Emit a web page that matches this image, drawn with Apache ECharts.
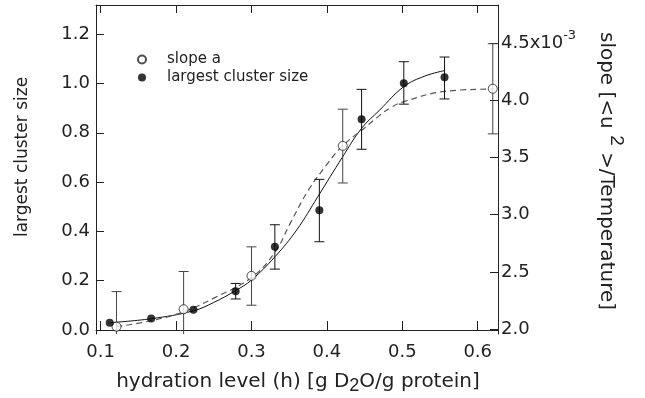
<!DOCTYPE html>
<html>
<head>
<meta charset="utf-8">
<script src="https://cdn.jsdelivr.net/npm/echarts@6/dist/echarts.min.js"></script>
<style>
html,body{margin:0;padding:0;background:#fff;}
#c{width:645px;height:398px;}
</style>
</head>
<body>
<div id="c"></div>
<script>
// ---- data ----
// largest cluster size (filled, left axis)
var clusterX    = [0.112, 0.167, 0.223, 0.279, 0.331, 0.390, 0.446, 0.502, 0.556];
var clusterY    = [0.030, 0.047, 0.082, 0.157, 0.338, 0.486, 0.855, 1.001, 1.025];
var clusterLow  = [null,  null,  null,  0.126, 0.247, 0.358, 0.733, 0.916, 0.937];
var clusterHigh = [null,  null,  null,  0.189, 0.427, 0.611, 0.976, 1.088, 1.107];

// slope a (open, right axis, x10^-3)
var slopeX    = [0.121, 0.210, 0.300, 0.421, 0.620];
var slopeY    = [2.020, 2.173, 2.465, 3.603, 4.103];
var slopeLow  = [1.713, 1.843, 2.208, 3.278, 3.708];
var slopeHigh = [2.327, 2.503, 2.719, 3.924, 4.497];

// fitted curves
var solidFitX = [0.112, 0.167, 0.223, 0.250, 0.279, 0.300, 0.331, 0.360, 0.388, 0.421, 0.446, 0.470, 0.502, 0.530, 0.556];
var solidFitY = [0.030, 0.046, 0.078, 0.112, 0.160, 0.203, 0.297, 0.406, 0.541, 0.703, 0.818, 0.892, 0.987, 1.030, 1.052];
var dashFitX  = [0.121, 0.165, 0.210, 0.250, 0.300, 0.331, 0.351, 0.375, 0.400, 0.421, 0.450, 0.470, 0.485, 0.502, 0.556, 0.620];
var dashFitY  = [2.020, 2.070, 2.150, 2.270, 2.450, 2.670, 2.920, 3.210, 3.440, 3.605, 3.760, 3.870, 3.940, 3.990, 4.080, 4.100];

// tick labels
var xTicks  = [0.1, 0.2, 0.3, 0.4, 0.5, 0.6];
var yTicksL = [0.0, 0.2, 0.4, 0.6, 0.8, 1.0, 1.2];
var yTicksR = [2.0, 2.5, 3.0, 3.5, 4.0, 4.5];

var FONT = '"DejaVu Sans", sans-serif';
var TXT = '#222';

function zip(a, b) { return a.map(function (v, i) { return [v, b[i]]; }); }
function errData(x, lo, hi) {
  var out = [];
  for (var i = 0; i < x.length; i++) { if (lo[i] != null) out.push([x[i], lo[i], hi[i]]); }
  return out;
}
function errRender(color) {
  return function (params, api) {
    var x = api.value(0), lo = api.value(1), hi = api.value(2);
    var p1 = api.coord([x, lo]), p2 = api.coord([x, hi]);
    var w = 5;
    var st = { stroke: color, lineWidth: 1 };
    return {
      type: 'group',
      children: [
        { type: 'line', shape: { x1: p1[0], y1: p1[1], x2: p2[0], y2: p2[1] }, style: st },
        { type: 'line', shape: { x1: p1[0] - w, y1: p1[1], x2: p1[0] + w, y2: p1[1] }, style: st },
        { type: 'line', shape: { x1: p2[0] - w, y1: p2[1], x2: p2[0] + w, y2: p2[1] }, style: st }
      ]
    };
  };
}

var chart = echarts.init(document.getElementById('c'), null, { renderer: 'canvas' });
var axisLineStyle = { lineStyle: { color: '#222', width: 1 } };
var option = {
  animation: false,
  backgroundColor: '#fff',
  textStyle: { fontFamily: FONT, color: TXT },
  grid: { left: 96, right: 147, top: 5, bottom: 64, containLabel: false },
  legend: {
    orient: 'vertical', left: 132, top: 47, itemWidth: 10, itemHeight: 8, itemGap: 3,
    textStyle: { fontFamily: FONT, fontSize: 15, color: TXT, padding: [0, 0, 0, 15] },
    data: ['slope a', 'largest cluster size']
  },
  xAxis: [
    {
      type: 'value', min: 0.0938, max: 0.6269, position: 'bottom',
      axisLine: axisLineStyle,
      axisTick: { inside: true, length: 9, customValues: xTicks, lineStyle: { color: '#222' } },
      axisLabel: { customValues: xTicks, margin: 9, fontSize: 18, color: TXT, fontFamily: FONT,
        formatter: function (v) { return v.toFixed(1); } },
      splitLine: { show: false }
    },
    {
      type: 'value', min: 0.0938, max: 0.6269, position: 'top',
      axisLine: axisLineStyle,
      axisTick: { inside: true, length: 8, customValues: xTicks, lineStyle: { color: '#222' } },
      axisLabel: { show: false },
      splitLine: { show: false }
    }
  ],
  yAxis: [
    {
      type: 'value', min: -0.016, max: 1.318, position: 'left',
      axisLine: { show: true, lineStyle: { color: '#222', width: 1 } },
      axisTick: { show: true, inside: true, length: 8, customValues: yTicksL, lineStyle: { color: '#222' } },
      axisLabel: { customValues: yTicksL, margin: 6, fontSize: 18, color: TXT, fontFamily: FONT,
        formatter: function (v) { return v.toFixed(1); } },
      splitLine: { show: false }
    },
    {
      type: 'value', min: 1.956, max: 4.836, position: 'right',
      axisLine: { show: true, lineStyle: { color: '#222', width: 1 } },
      axisTick: { show: true, inside: true, length: 8, customValues: yTicksR, lineStyle: { color: '#222' } },
      axisLabel: { customValues: yTicksR, margin: 3, fontSize: 18, color: TXT, fontFamily: FONT,
        formatter: function (v) { return Math.abs(v - 4.5) < 1e-9 ? '4.5x10{sup|-3}' : v.toFixed(1); },
        rich: { sup: { fontSize: 13, verticalAlign: 'top', padding: [0, 0, 16, 0], color: TXT, fontFamily: FONT } } },
      splitLine: { show: false }
    }
  ],
  graphic: [
    { type: 'text', x: 23, y: 157, rotation: Math.PI / 2,
      style: { text: 'largest cluster size', font: '17px ' + FONT, fill: TXT, align: 'center', verticalAlign: 'middle' } },
    { type: 'text', x: 606, y: 171, rotation: -Math.PI / 2,
      style: { text: 'slope [<u {sup|2} >/Temperature]', font: '20px ' + FONT, fill: TXT, align: 'center', verticalAlign: 'middle',
        rich: { sup: { fontSize: 19, padding: [0, 0, 20, 0], fill: TXT } } } },
    { type: 'text', x: 298, y: 382,
      style: { text: 'hydration level (h) [g D{sub|2}O/g protein]', font: '20px ' + FONT, fill: TXT, align: 'center', verticalAlign: 'middle',
        rich: { sub: { fontSize: 18, padding: [9, 0, 0, 0], fill: TXT } } } }
  ],
  series: [
    { name: 'fitSolid', type: 'line', xAxisIndex: 0, yAxisIndex: 0, data: zip(solidFitX, solidFitY),
      smooth: 0.4, symbol: 'none', lineStyle: { color: '#111', width: 1 }, z: 2, silent: true },
    { name: 'fitDash', type: 'line', xAxisIndex: 0, yAxisIndex: 1, data: zip(dashFitX, dashFitY),
      smooth: 0.4, symbol: 'none', lineStyle: { color: '#555', width: 1.2, type: [6, 4] }, z: 2, silent: true },
    { name: 'errSlope', type: 'custom', xAxisIndex: 0, yAxisIndex: 1, clip: true,
      data: errData(slopeX, slopeLow, slopeHigh), renderItem: errRender('#444'), z: 3 },
    { name: 'errCluster', type: 'custom', xAxisIndex: 0, yAxisIndex: 0, clip: true,
      data: errData(clusterX, clusterLow, clusterHigh), renderItem: errRender('#111'), z: 3 },
    { name: 'slope a', type: 'scatter', xAxisIndex: 0, yAxisIndex: 1, data: zip(slopeX, slopeY),
      symbol: 'circle', symbolSize: 9, itemStyle: { color: '#fff', borderColor: '#222', borderWidth: 1 }, z: 5 },
    { name: 'largest cluster size', type: 'scatter', xAxisIndex: 0, yAxisIndex: 0, data: zip(clusterX, clusterY),
      symbol: 'circle', symbolSize: 8, itemStyle: { color: '#000' }, z: 5 }
  ]
};
chart.setOption(option);
</script>
</body>
</html>
